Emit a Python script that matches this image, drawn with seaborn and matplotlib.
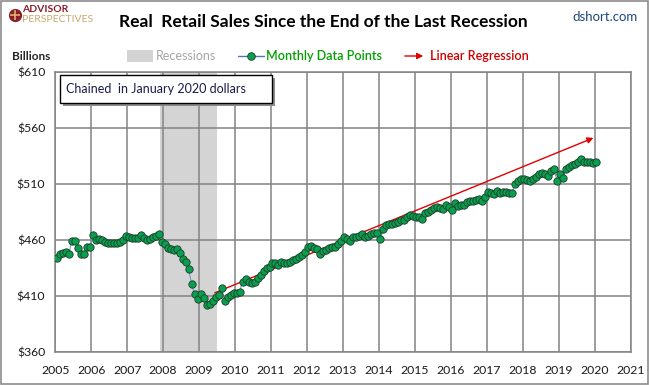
"""Real retail sales since the end of the last recession (Advisor Perspectives style)."""
import matplotlib
matplotlib.use("Agg")
import matplotlib.pyplot as plt
from matplotlib.lines import Line2D
from matplotlib.patches import Rectangle
import pandas as pd
import seaborn as sns

# monthly real retail sales, billions (Jan 2020 dollars), Jan 2005 .. Jan 2020
START_MONTH = "2005-01"
SALES = [
    # 2005
    443.6, 447.5, 448.7, 449.6, 447.2, 459.4, 459.4, 452.6, 447.5, 447.5, 453.5, 453.5,
    # 2006
    464.5, 460.0, 460.6, 460.0, 458.5, 457.6, 457.6, 457.6, 457.6, 458.5, 460.0, 463.6,
    # 2007
    462.4, 461.5, 461.5, 461.5, 464.5, 461.5, 460.0, 461.0, 462.4, 463.6, 465.0, 458.0,
    # 2008
    456.5, 453.0, 452.0, 451.0, 452.0, 448.0, 443.0, 440.0, 434.0, 420.7, 411.8, 407.0,
    # 2009
    411.8, 408.5, 402.0, 402.5, 405.5, 409.4, 410.5, 416.8, 405.8, 408.8, 410.9, 412.4,
    # 2010
    413.0, 413.5, 422.8, 424.9, 422.8, 421.9, 422.8, 425.8, 428.8, 432.6, 434.7, 436.2,
    # 2011
    439.2, 439.2, 437.7, 440.7, 439.2, 439.2, 440.0, 442.1, 443.0, 445.1, 446.6, 449.6,
    # 2012
    454.0, 454.6, 452.6, 451.7, 447.5, 450.5, 451.5, 452.6, 453.5, 454.0, 456.4, 459.4,
    # 2013
    462.4, 460.6, 459.4, 462.4, 463.0, 464.0, 465.4, 462.4, 463.6, 465.4, 466.0, 466.5,
    # 2014
    460.6, 469.5, 473.4, 474.3, 474.3, 475.0, 476.4, 477.9, 477.5, 480.2, 482.3, 481.0,
    # 2015
    480.2, 480.2, 478.4, 483.8, 485.3, 486.8, 488.3, 489.8, 488.3, 487.4, 491.3, 489.2,
    # 2016
    486.8, 492.7, 490.4, 491.0, 491.3, 494.2, 495.1, 495.1, 495.8, 496.3, 495.1, 498.7,
    # 2017
    503.2, 501.7, 501.1, 504.1, 501.7, 502.5, 503.2, 502.3, 502.3, 510.0, 513.0, 514.2,
    # 2018
    514.2, 513.6, 513.0, 514.2, 516.5, 518.9, 520.1, 518.9, 517.1, 521.9, 523.1, 512.5,
    # 2019
    518.7, 515.8, 523.5, 525.0, 526.8, 528.0, 529.3, 532.3, 530.0, 529.3, 529.3, 528.8,
    # 2020
    529.3,
]

RECESSION = (2007.917, 2009.5)
REG_YEARS = [2009.44, 2019.97]
REG_VALUES = [412.9, 551.2]

Y_TICKS = [360, 410, 460, 510, 560, 610]
X_TICKS = list(range(2005, 2022))

GRID = "#848484"
GREEN = "#0A9E4F"
LINE_BLUE = "#7895C8"
RED = "#E00000"

W, H = 649, 385


def fx(px):
    return px / W


def fy(py):
    return 1 - py / H


months = pd.date_range(START_MONTH, periods=len(SALES), freq="MS")
df = pd.DataFrame({"year": months.year + (months.month - 0.5) / 12, "sales": SALES})

sns.set_style("white")
plt.rcParams["font.family"] = ["Lato", "DejaVu Sans"]

fig = plt.figure(figsize=(W / 100, H / 100), dpi=100)
ax = fig.add_axes([fx(55.3), fy(352), fx(630.5) - fx(55.3), fy(72) - fy(352)])

ax.axvspan(*RECESSION, color="#d4d4d4", lw=0, zorder=0)
ax.set_axisbelow(True)
ax.grid(True, color=GRID, lw=1.1)

ax.annotate("", xy=(REG_YEARS[1], REG_VALUES[1]), xytext=(REG_YEARS[0], REG_VALUES[0]),
            arrowprops=dict(arrowstyle="-|>", color=RED, lw=1.0, mutation_scale=9,
                            shrinkA=0, shrinkB=0), zorder=2)

sns.lineplot(data=df, x="year", y="sales", ax=ax, color=LINE_BLUE, lw=0.8, zorder=3)
sns.scatterplot(data=df, x="year", y="sales", ax=ax, s=28, color=GREEN,
                edgecolor="#1b3d28", linewidth=0.6, zorder=4)

ax.set_xlim(2005, 2021)
ax.set_ylim(360, 610)
ax.set_xticks(X_TICKS)
ax.set_yticks(Y_TICKS)
ax.set_yticklabels([f"${v}" for v in Y_TICKS])
ax.set_xlabel("")
ax.set_ylabel("")
ax.tick_params(axis="y", length=3.2, width=1.0, color=GRID, pad=4, labelsize=8.8, labelcolor="#1a1a1a")
ax.tick_params(axis="x", length=0, pad=9, labelsize=8.8, labelcolor="#1a1a1a")
for s in ax.spines.values():
    s.set_color(GRID)
    s.set_linewidth(1.1)

# header
fig.text(fx(323), fy(22), "Real  Retail Sales Since the End of the Last Recession",
         ha="center", va="center", fontsize=12.5, fontweight="bold", color="black")
fig.text(fx(638), fy(17), "dshort.com", ha="right", va="center", fontsize=9.5, color="#1F497D")
fig.text(fx(12), fy(57), "Billions", ha="left", va="center", fontsize=8.5, fontweight="bold")

# logo
fig.add_artist(Line2D([fx(15)], [fy(15)], marker="o", markersize=8.5, mfc="#8B1E2B",
                      mec="#8B1E2B", transform=fig.transFigure))
fig.add_artist(Line2D([fx(15)], [fy(15)], marker="+", markersize=7, mec="#D9B36A", mew=1.2,
                      transform=fig.transFigure))
fig.text(fx(22), fy(10), "ADVISOR", ha="left", va="center", fontsize=7.5, fontweight="bold",
         color="#8B1E2B")
fig.text(fx(22), fy(19.5), "PERSPECTIVES", ha="left", va="center", fontsize=7.5,
         color="#C9A86B")

# legend
fig.add_artist(Rectangle((fx(127), fy(62)), fx(153) - fx(127), fy(50) - fy(62),
                         color="#d4d4d4", lw=0, transform=fig.transFigure))
fig.text(fx(156), fy(56), "Recessions", ha="left", va="center", fontsize=9, color="#a6a6a6")
fig.add_artist(Line2D([fx(238), fx(264)], [fy(56), fy(56)], color="#4F74B8", lw=1.0,
                      transform=fig.transFigure))
fig.add_artist(Line2D([fx(251)], [fy(56)], marker="o", markersize=5.5, mfc=GREEN, mec="#1b3d28",
                      mew=0.6, transform=fig.transFigure))
fig.text(fx(266), fy(56), "Monthly Data Points", ha="left", va="center", fontsize=9,
         color="#00A000", fontweight="semibold")
fig.add_artist(matplotlib.patches.FancyArrowPatch((fx(402), fy(56)), (fx(426), fy(56)),
                                                  arrowstyle="-|>", mutation_scale=9, color=RED,
                                                  lw=1.0, transform=fig.transFigure))
fig.text(fx(430), fy(56), "Linear Regression", ha="left", va="center", fontsize=9,
         color="#CC0000", fontweight="semibold")

# note box with shadow
fig.add_artist(Rectangle((fx(63), fy(106)), fx(272) - fx(60), fy(75) - fy(103),
                         facecolor="#8c8c8c", lw=0, transform=fig.transFigure))
fig.add_artist(Rectangle((fx(60), fy(103)), fx(272) - fx(60), fy(75) - fy(103),
                         facecolor="white", edgecolor="black", lw=1.0, transform=fig.transFigure))
fig.text(fx(66), fy(89), "Chained  in January 2020 dollars", ha="left", va="center",
         fontsize=9, color="#1a1a4a")

# outer border
fig.add_artist(Rectangle((0.001, 0.002), 0.997, 0.996, fill=False, edgecolor="#8c8c8c",
                         lw=1.2, transform=fig.transFigure))

fig.savefig("out.png", dpi=100)
